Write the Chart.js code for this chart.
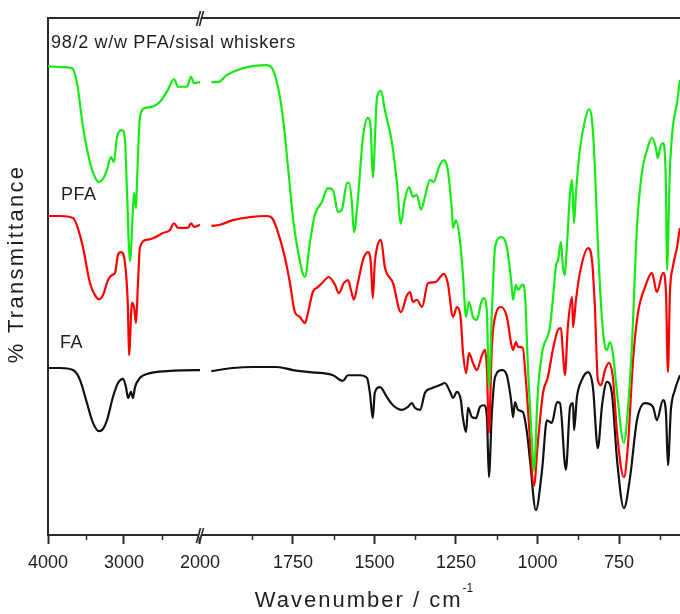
<!DOCTYPE html>
<html>
<head>
<meta charset="utf-8">
<title>FTIR spectra - FA, PFA, PFA/sisal whiskers</title>
<script src="https://cdn.jsdelivr.net/npm/chart.js@4.4.1/dist/chart.umd.min.js"></script>
<style>
  html, body { margin: 0; padding: 0; background: #fff; }
  canvas { display: block; }
</style>
</head>
<body>
<canvas id="ftir" width="680" height="614"></canvas>
<script>
// --- spectra (wavenumber in cm-1, transmittance in arbitrary offset units 0-100)
// each curve is split at the axis break: "High" = 4000-2000, "Low" = 2000 and below

// 98/2 w/w PFA/sisal whiskers (green)
const mixHighWn = [4000, 3842, 3684, 3618, 3539, 3447, 3382, 3329, 3276, 3224, 3171, 3132, 3092, 3026, 2987, 2961, 2921, 2882, 2868, 2842, 2829, 2789, 2724, 2632, 2526, 2421, 2342, 2289, 2171, 2118, 2079, 2000];
const mixHighT = [90.7, 90.5, 90.3, 87.4, 78.9, 72.0, 69.2, 68.3, 68.9, 70.6, 73.1, 72.1, 77.0, 78.3, 76.4, 66.7, 53.0, 62.9, 66.2, 63.2, 68.1, 80.9, 82.6, 82.8, 83.8, 86.1, 88.2, 86.7, 86.7, 88.6, 87.4, 87.6];
const mixLowWn = [2000, 1980, 1952, 1913, 1873, 1830, 1814, 1796, 1781, 1765, 1750, 1735, 1713, 1698, 1683, 1661, 1643, 1627, 1612, 1600, 1584, 1578, 1569, 1563, 1551, 1535, 1520, 1511, 1505, 1492, 1480, 1468, 1446, 1431, 1419, 1407, 1394, 1382, 1370, 1357, 1345, 1330, 1318, 1302, 1287, 1275, 1262, 1259, 1250, 1238, 1229, 1219, 1210, 1198, 1186, 1173, 1164, 1155, 1149, 1140, 1130, 1112, 1094, 1081, 1075, 1066, 1060, 1045, 1038, 1029, 1017, 1011, 999, 986, 962, 953, 943, 937, 928, 922, 916, 910, 900, 894, 888, 882, 870, 854, 842, 833, 824, 815, 802, 793, 787, 778, 769, 756, 735, 723, 710, 695, 680, 664, 649, 637, 631, 624, 615, 606, 603, 594, 585, 572, 563, 550];
const mixLowT = [87.6, 87.6, 89.0, 90.1, 90.7, 90.9, 90.3, 86.7, 80.9, 71.2, 61.5, 55.1, 49.9, 56.5, 61.9, 64.4, 67.1, 66.7, 62.5, 62.9, 68.1, 68.1, 64.2, 58.6, 64.8, 77.0, 80.7, 78.3, 69.2, 84.7, 85.9, 82.2, 75.8, 68.1, 60.2, 64.8, 67.3, 65.4, 65.8, 62.9, 65.4, 68.7, 68.3, 71.2, 72.5, 70.6, 62.3, 59.4, 60.9, 57.1, 50.7, 42.2, 45.1, 42.2, 41.6, 44.9, 45.8, 42.9, 28.6, 42.9, 55.7, 57.6, 55.7, 49.3, 45.5, 48.4, 47.4, 48.5, 46.0, 31.9, 17.8, 12.4, 27.5, 35.2, 40.2, 45.5, 52.2, 53.2, 56.7, 51.8, 50.3, 55.7, 66.2, 68.7, 60.3, 66.2, 74.5, 80.3, 82.4, 80.3, 71.2, 56.5, 41.6, 36.4, 35.8, 37.3, 35.2, 27.5, 17.8, 24.2, 37.1, 59.6, 70.0, 74.5, 76.8, 74.9, 72.9, 74.9, 75.8, 67.3, 51.3, 70.6, 78.9, 83.6, 88.0, 91.0];

// PFA (red)
const pfaHighWn = [4000, 3842, 3671, 3553, 3447, 3382, 3329, 3276, 3211, 3158, 3118, 3079, 3039, 2987, 2947, 2934, 2895, 2868, 2842, 2816, 2789, 2697, 2618, 2487, 2395, 2342, 2289, 2158, 2118, 2079, 2000];
const pfaHighT = [61.7, 61.7, 61.3, 56.5, 48.7, 46.4, 45.6, 46.4, 49.3, 50.3, 50.7, 54.2, 54.7, 52.6, 43.5, 34.8, 44.9, 44.1, 41.0, 48.7, 55.7, 57.1, 57.4, 58.4, 59.0, 60.3, 59.4, 59.4, 60.3, 59.6, 60.0];
const pfaLowWn = [2000, 1974, 1934, 1882, 1830, 1814, 1796, 1775, 1759, 1744, 1729, 1713, 1704, 1689, 1673, 1658, 1640, 1621, 1609, 1594, 1581, 1572, 1563, 1551, 1535, 1520, 1511, 1505, 1499, 1492, 1480, 1468, 1443, 1419, 1400, 1391, 1382, 1370, 1354, 1336, 1314, 1287, 1275, 1259, 1247, 1235, 1229, 1219, 1210, 1198, 1186, 1170, 1161, 1155, 1149, 1140, 1127, 1112, 1094, 1081, 1075, 1066, 1060, 1045, 1038, 1029, 1011, 999, 983, 968, 953, 937, 928, 922, 916, 907, 894, 891, 882, 870, 845, 833, 824, 815, 805, 793, 781, 769, 756, 735, 723, 707, 692, 670, 649, 634, 615, 606, 600, 594, 585, 572, 563, 550];
const pfaLowT = [59.8, 60.0, 60.9, 61.5, 61.7, 61.3, 58.6, 53.8, 48.7, 43.1, 42.2, 41.0, 42.9, 47.0, 48.0, 48.9, 49.9, 48.4, 46.8, 48.7, 49.3, 47.4, 45.5, 48.7, 53.2, 54.7, 52.6, 45.8, 52.6, 55.7, 57.1, 51.8, 48.7, 43.1, 46.4, 47.0, 45.1, 45.5, 44.1, 48.7, 48.9, 50.5, 48.7, 42.2, 44.1, 41.6, 35.8, 31.3, 35.2, 33.3, 31.9, 34.8, 35.8, 31.9, 19.7, 36.4, 42.9, 44.1, 42.2, 37.1, 35.8, 37.3, 36.4, 36.2, 31.9, 24.2, 9.5, 17.8, 27.5, 30.6, 35.8, 39.7, 40.0, 35.2, 30.9, 40.2, 46.0, 40.2, 45.5, 50.7, 55.5, 53.2, 44.1, 30.0, 29.0, 31.9, 33.3, 30.6, 19.7, 11.2, 17.0, 33.8, 42.9, 48.0, 50.7, 47.0, 50.7, 46.8, 31.5, 46.8, 51.8, 55.7, 59.4, 61.9];

// FA (black)
const faHighWn = [4000, 3842, 3671, 3579, 3487, 3408, 3329, 3276, 3224, 3145, 3079, 3013, 2974, 2947, 2908, 2882, 2855, 2789, 2658, 2434, 2039, 2000];
const faHighT = [32.3, 32.3, 31.9, 30.0, 25.5, 21.7, 20.1, 20.5, 22.2, 26.7, 29.4, 30.2, 28.6, 26.5, 27.7, 26.5, 28.6, 30.4, 31.3, 31.7, 31.9, 31.9];
const faLowWn = [2000, 1934, 1873, 1799, 1750, 1698, 1658, 1627, 1597, 1581, 1545, 1523, 1514, 1505, 1499, 1483, 1462, 1443, 1416, 1397, 1385, 1376, 1360, 1345, 1324, 1299, 1284, 1268, 1259, 1247, 1235, 1229, 1219, 1213, 1201, 1189, 1176, 1164, 1155, 1149, 1140, 1130, 1109, 1094, 1081, 1075, 1069, 1060, 1045, 1032, 1023, 1005, 986, 971, 956, 940, 931, 913, 900, 891, 888, 879, 864, 845, 830, 815, 802, 787, 772, 756, 735, 716, 695, 670, 646, 634, 615, 606, 600, 591, 579, 563, 550];
const faLowT = [31.7, 32.3, 32.5, 32.5, 31.9, 31.5, 31.3, 30.9, 29.8, 30.9, 30.9, 30.4, 27.5, 22.6, 27.5, 28.6, 26.7, 25.1, 24.2, 24.8, 25.5, 24.6, 24.2, 27.5, 28.4, 29.0, 29.4, 27.7, 26.5, 27.7, 26.1, 22.8, 19.9, 24.6, 22.8, 22.6, 24.8, 25.1, 22.8, 11.2, 23.6, 30.6, 31.9, 30.9, 26.1, 22.8, 25.7, 24.2, 23.8, 19.7, 14.5, 4.8, 12.6, 22.2, 21.7, 25.7, 25.5, 12.6, 24.8, 25.5, 20.3, 26.7, 30.0, 31.5, 28.6, 16.8, 25.1, 29.6, 27.5, 14.5, 5.2, 11.2, 22.2, 25.5, 24.8, 22.2, 26.1, 23.6, 13.5, 24.2, 28.0, 30.9, 32.9];

// axis ticks (cm-1)
const majorTicks = [4000, 3000, 2000, 1750, 1500, 1250, 1000, 750];
const minorTicks = [3500, 2500, 1875, 1625, 1375, 1125, 875, 625];

const FONT = "'Liberation Sans', Arial, Helvetica, sans-serif";
const INK = '#1e1e1e';
const AXIS = '#2a2a2a';

// broken x axis: 4000-2000 is squeezed, 2000 and below is at full scale
const HIGH_SQUEEZE = 0.233;
const BREAK_GAP = 35;
const LOW_ORIGIN = 2000 * HIGH_SQUEEZE + BREAK_GAP;
const WN_END = 563;

const hiPos = w => (4000 - w) * HIGH_SQUEEZE;
const loPos = w => LOW_ORIGIN + (2000 - w);
const tickPos = w => (w >= 2000 ? hiPos(w) : loPos(w));

function points(wn, t, pos) {
  return wn.map((w, i) => ({ x: pos(w), y: t[i] }));
}

function line(data, color, order) {
  return {
    data,
    borderColor: color,
    borderWidth: 2.2,
    pointRadius: 0,
    fill: false,
    cubicInterpolationMode: 'monotone',
    order
  };
}

const datasets = [
  line(points(mixHighWn, mixHighT, hiPos), 'rgb(20,235,20)', 0),
  line(points(mixLowWn, mixLowT, loPos), 'rgb(20,235,20)', 0),
  line(points(pfaHighWn, pfaHighT, hiPos), 'rgb(255,0,0)', 1),
  line(points(pfaLowWn, pfaLowT, loPos), 'rgb(255,0,0)', 1),
  line(points(faHighWn, faHighT, hiPos), '#111', 2),
  line(points(faLowWn, faLowT, loPos), '#111', 2)
];

// frame, minor ticks, axis break marks, labels and axis titles
const decorations = {
  id: 'decorations',
  afterDraw(chart) {
    const { ctx, chartArea: a, scales: { x, y } } = chart;
    ctx.save();

    // top border
    ctx.strokeStyle = AXIS;
    ctx.lineWidth = 2;
    ctx.beginPath();
    ctx.moveTo(a.left - 1, a.top);
    ctx.lineTo(a.right, a.top);
    ctx.stroke();

    // minor ticks
    ctx.lineWidth = 1.5;
    minorTicks.forEach(w => {
      const px = Math.round(x.getPixelForValue(tickPos(w))) + 0.5;
      ctx.beginPath();
      ctx.moveTo(px, a.bottom);
      ctx.lineTo(px, a.bottom + 5);
      ctx.stroke();
    });

    // break marks on top and bottom axis
    const bx = x.getPixelForValue(hiPos(2000));
    [a.top, a.bottom].forEach(by => {
      ctx.fillStyle = '#fff';
      ctx.beginPath();
      ctx.moveTo(bx - 3, by + 4);
      ctx.lineTo(bx + 1.5, by - 4);
      ctx.lineTo(bx + 3, by - 4);
      ctx.lineTo(bx - 1.5, by + 4);
      ctx.closePath();
      ctx.fill();
      ctx.strokeStyle = AXIS;
      ctx.lineWidth = 1.6;
      ctx.beginPath();
      ctx.moveTo(bx - 3.5, by + 8);
      ctx.lineTo(bx + 0.5, by - 7);
      ctx.moveTo(bx - 0.5, by + 8);
      ctx.lineTo(bx + 3.5, by - 7);
      ctx.stroke();
    });

    // in-plot labels
    ctx.fillStyle = INK;
    ctx.textAlign = 'left';
    ctx.textBaseline = 'middle';
    ctx.font = `18px ${FONT}`;
    ctx.letterSpacing = '0.7px';
    ctx.fillText('98/2 w/w PFA/sisal whiskers', x.getPixelForValue(hiPos(3960)), y.getPixelForValue(95.2));
    ctx.letterSpacing = '0.5px';
    ctx.fillText('PFA', x.getPixelForValue(hiPos(3829)), y.getPixelForValue(65.8));
    ctx.fillText('FA', x.getPixelForValue(hiPos(3842)), y.getPixelForValue(37.1));

    // x axis title with superscript
    const main = 'Wavenumber / cm';
    const sup = '-1';
    ctx.textBaseline = 'alphabetic';
    ctx.font = `22px ${FONT}`;
    ctx.letterSpacing = '2px';
    const wMain = ctx.measureText(main).width;
    ctx.font = `12px ${FONT}`;
    ctx.letterSpacing = '0px';
    const wSup = ctx.measureText(sup).width;
    const cx = (a.left + a.right) / 2;
    const x0 = cx - (wMain + wSup) / 2;
    ctx.font = `22px ${FONT}`;
    ctx.letterSpacing = '2px';
    ctx.fillText(main, x0, 607);
    ctx.font = `12px ${FONT}`;
    ctx.letterSpacing = '0px';
    ctx.fillText(sup, x0 + wMain, 592);

    // y axis title
    ctx.translate(17, 264);
    ctx.rotate(-Math.PI / 2);
    ctx.textAlign = 'center';
    ctx.textBaseline = 'middle';
    ctx.font = `22px ${FONT}`;
    ctx.letterSpacing = '2.3px';
    ctx.fillText('% Transmittance', 0, 0);

    ctx.restore();
  }
};

new Chart(document.getElementById('ftir'), {
  type: 'line',
  data: { datasets },
  options: {
    responsive: false,
    animation: false,
    devicePixelRatio: 1,
    layout: { padding: { top: 18, right: 0, bottom: 0, left: 0 } },
    plugins: { legend: { display: false }, tooltip: { enabled: false } },
    scales: {
      x: {
        type: 'linear',
        min: 0,
        max: loPos(WN_END),
        afterBuildTicks: s => { s.ticks = majorTicks.map(w => ({ value: tickPos(w) })); },
        afterFit: s => { s.height = 79; },
        ticks: {
          autoSkip: false,
          maxRotation: 0,
          padding: 8,
          color: INK,
          font: { family: FONT, size: 18 },
          callback: (v, i) => String(majorTicks[i])
        },
        grid: { drawOnChartArea: false, drawTicks: true, tickLength: 9, tickWidth: 2, tickColor: AXIS },
        border: { display: true, width: 2, color: AXIS }
      },
      y: {
        min: 0,
        max: 100,
        afterFit: s => { s.width = 48; },
        ticks: { display: false },
        grid: { display: false },
        border: { display: true, width: 2, color: AXIS }
      }
    }
  },
  plugins: [decorations]
});
</script>
</body>
</html>
